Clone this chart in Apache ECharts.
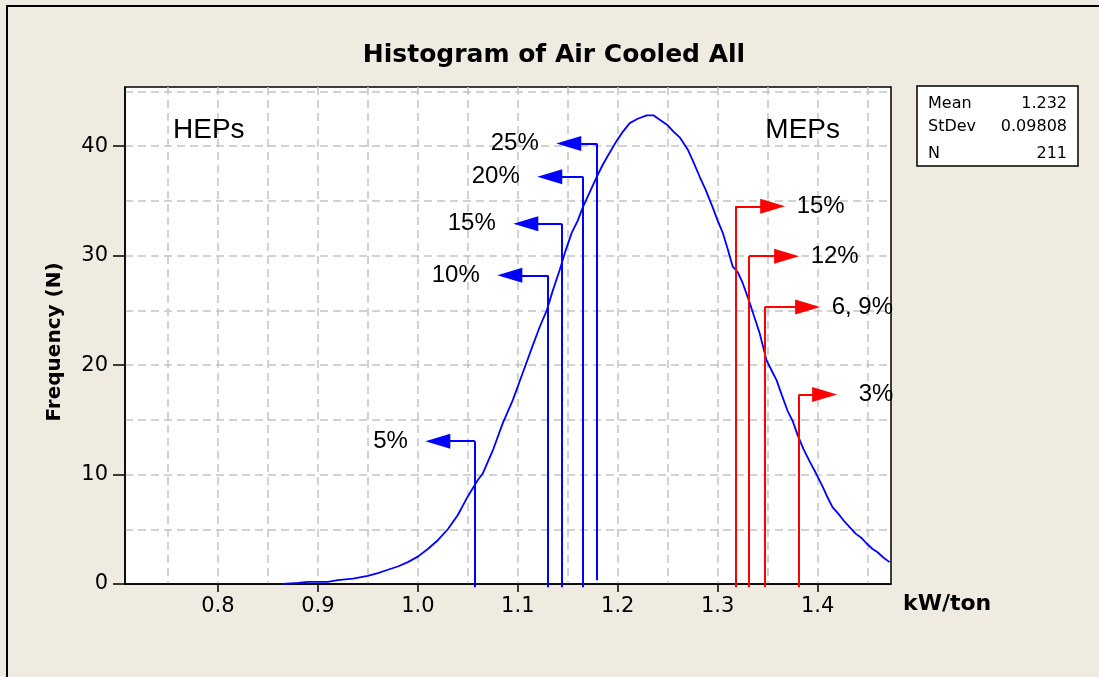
<!DOCTYPE html>
<html><head><meta charset="utf-8">
<script src="https://cdn.jsdelivr.net/npm/echarts@6/dist/echarts.min.js"></script>
<style>html,body{margin:0;padding:0;background:#efebe1}#c{width:1099px;height:677px}</style>
</head><body><div id="c"></div>
<script>
// ---- data ----
const curveX = [0.865,0.88,0.89,0.91,0.92,0.935,0.95,0.96,0.97,0.98,0.99,1.0,1.01,1.02,1.03,1.04,1.05,1.06,1.065,1.075,1.085,1.095,1.105,1.115,1.122,1.129,1.135,1.142,1.148,1.154,1.16,1.165,1.172,1.179,1.185,1.19,1.199,1.205,1.212,1.22,1.229,1.236,1.242,1.25,1.256,1.262,1.27,1.276,1.282,1.288,1.295,1.30,1.305,1.31,1.315,1.32,1.325,1.332,1.337,1.342,1.349,1.354,1.359,1.364,1.37,1.375,1.38,1.386,1.392,1.399,1.405,1.41,1.415,1.42,1.426,1.432,1.438,1.444,1.449,1.455,1.46,1.466,1.472];
const curveY = [0,0.1,0.2,0.2,0.35,0.5,0.75,1.0,1.3,1.6,2.0,2.5,3.2,4.0,5.0,6.3,8.0,9.5,10.1,12.2,14.7,16.8,19.3,21.8,23.5,25.0,26.8,28.7,30.5,32.1,33.2,34.4,35.8,37.2,38.3,39.1,40.5,41.3,42.1,42.5,42.8,42.8,42.4,41.9,41.3,40.8,39.7,38.5,37.2,36.0,34.4,33.2,32.1,30.6,29.0,28.5,27.5,25.7,24.3,22.9,20.4,19.5,18.6,17.3,15.8,14.9,13.6,12.3,11.2,10.0,8.9,7.9,7.0,6.5,5.8,5.2,4.6,4.2,3.7,3.2,2.9,2.4,2.0];

const blueLabels = ['5%','10%','15%','20%','25%'];
const blueStemX  = [1.057,1.130,1.144,1.1653,1.1793];
const blueArmY   = [13.05,28.2,32.9,37.2,40.25];
const blueHeadX  = [1.020,1.092,1.108,1.132,1.151];
const blueBaseY  = [-0.3,-0.3,-0.3,-0.3,0.35];

const redLabels = ['15%','12%','6, 9%','3%'];
const redStemX  = [1.318,1.3313,1.347,1.3813];
const redArmY   = [34.5,29.95,25.3,17.3];
const redHeadX  = [1.355,1.369,1.390,1.407];
const redBaseY  = [-0.3,-0.3,-0.3,-0.3];

const xTickValues = [0.8,0.9,1.0,1.1,1.2,1.3,1.4];
const xGridValues = [0.75,0.8,0.85,0.9,0.95,1.0,1.05,1.1,1.15,1.2,1.25,1.3,1.35,1.4,1.45];
const yTickValues = [0,10,20,30,40];
const yGridValues = [5,10,15,20,25,30,35,40,45];

const statNames = ['Mean','StDev','N'];
const statValues = ['1.232','0.09808','211'];

// ---- chart ----
const X_MIN = 0.707, X_MAX = 1.4734, Y_MAX = 45.4;
const chart = echarts.init(document.getElementById('c'));
const gridLine = {show:true, lineStyle:{color:'#c4c4c4', width:1.5, type:[8,5]}};
function stems(xs, bases, tops){ return xs.map((x,i)=>({coords:[[x,bases[i]],[x,tops[i]]]})); }
function arms(xs, heads, ys, labels){ return xs.map((x,i)=>({name:labels[i], coords:[[x,ys[i]],[heads[i],ys[i]]]})); }
const labelStyle = {show:true, position:'end', formatter:'{b}', color:'#000', fontSize:24, fontFamily:'Liberation Sans'};

const statGraphics = [];
const statRowY = [104,127,154];
statNames.forEach((n,i)=>{
  statGraphics.push({type:'text', x:928, y:statRowY[i], style:{text:n, font:'16px "DejaVu Sans"', fill:'#000', align:'left', verticalAlign:'middle'}});
  statGraphics.push({type:'text', x:1067, y:statRowY[i], style:{text:statValues[i], font:'16px "DejaVu Sans"', fill:'#000', align:'right', verticalAlign:'middle'}});
});

const redArmData = arms(redStemX, redHeadX, redArmY, redLabels);
redArmData[3].label = {distance:34};

chart.setOption({
  backgroundColor:'#efebe1',
  animation:false,
  grid:{left:125, top:87, right:208, bottom:93, show:true, backgroundColor:'#ffffff', borderColor:'#000', borderWidth:1.5},
  xAxis:[
    {type:'value', min:X_MIN, max:X_MAX, position:'bottom',
     axisLine:{show:true, onZero:false, lineStyle:{color:'#000', width:1.5}},
     axisTick:{show:true, length:8, lineStyle:{color:'#000', width:1.5}, customValues:xTickValues},
     axisLabel:{customValues:xTickValues, formatter:v=>v.toFixed(1), color:'#000', fontSize:21, fontFamily:'DejaVu Sans', margin:12},
     splitLine:{show:false}},
    {type:'value', min:X_MIN, max:X_MAX, position:'top',
     axisLine:{show:false}, axisTick:{show:false, customValues:xGridValues}, axisLabel:{show:false}, splitLine:gridLine}
  ],
  yAxis:[
    {type:'value', min:0, max:Y_MAX, position:'left',
     axisLine:{show:true, onZero:false, lineStyle:{color:'#000', width:1.5}},
     axisTick:{show:true, length:12, lineStyle:{color:'#000', width:1.5}, customValues:yTickValues},
     axisLabel:{customValues:yTickValues, color:'#000', fontSize:21, fontFamily:'DejaVu Sans', margin:17},
     splitLine:{show:false}},
    {type:'value', min:0, max:Y_MAX, position:'right',
     axisLine:{show:false}, axisTick:{show:false, customValues:yGridValues}, axisLabel:{show:false}, splitLine:gridLine}
  ],
  series:[
    {type:'line', xAxisIndex:0, yAxisIndex:0, data:curveX.map((x,i)=>[x,curveY[i]]),
     symbol:'none', lineStyle:{color:'#0000ff', width:1.8}, z:5},
    {type:'lines', coordinateSystem:'cartesian2d', xAxisIndex:0, yAxisIndex:0, clip:false,
     data:stems(blueStemX, blueBaseY, blueArmY), symbol:'none',
     lineStyle:{color:'#0000ff', width:2, opacity:1}, z:6},
    {type:'lines', coordinateSystem:'cartesian2d', xAxisIndex:0, yAxisIndex:0, clip:false,
     data:arms(blueStemX, blueHeadX, blueArmY, blueLabels), symbol:['none','triangle'], symbolSize:[1,[15,25]],
     lineStyle:{color:'#0000ff', width:2, opacity:1}, label:Object.assign({distance:30}, labelStyle), z:6},
    {type:'lines', coordinateSystem:'cartesian2d', xAxisIndex:0, yAxisIndex:0, clip:false,
     data:stems(redStemX, redBaseY, redArmY), symbol:'none',
     lineStyle:{color:'#ff0000', width:2, opacity:1}, z:6},
    {type:'lines', coordinateSystem:'cartesian2d', xAxisIndex:0, yAxisIndex:0, clip:false,
     data:redArmData, symbol:['none','triangle'], symbolSize:[1,[15,25]],
     lineStyle:{color:'#ff0000', width:2, opacity:1}, label:Object.assign({distance:24}, labelStyle), z:6}
  ],
  graphic:[
    {type:'rect', z:-10, shape:{x:7, y:6, width:1200, height:800}, style:{fill:'none', stroke:'#000', lineWidth:2}},
    {type:'text', x:554, y:55, style:{text:'Histogram of Air Cooled All', font:'bold 25px "DejaVu Sans"', fill:'#000', align:'center', verticalAlign:'middle'}},
    {type:'text', x:173, y:130, z:10, style:{text:'HEPs', font:'28px "Liberation Sans"', fill:'#000', align:'left', verticalAlign:'middle'}},
    {type:'text', x:840, y:130, z:10, style:{text:'MEPs', font:'28px "Liberation Sans"', fill:'#000', align:'right', verticalAlign:'middle'}},
    {type:'text', x:903, y:604, style:{text:'kW/ton', font:'bold 22px "DejaVu Sans"', fill:'#000', align:'left', verticalAlign:'middle'}},
    {type:'text', x:55, y:342, rotation:Math.PI/2, style:{text:'Frequency (N)', font:'bold 20px "DejaVu Sans"', fill:'#000', align:'center', verticalAlign:'middle'}},
    {type:'rect', shape:{x:917, y:86, width:161, height:80}, style:{fill:'#fff', stroke:'#000', lineWidth:1.5}}
  ].concat(statGraphics)
});
</script></body></html>
